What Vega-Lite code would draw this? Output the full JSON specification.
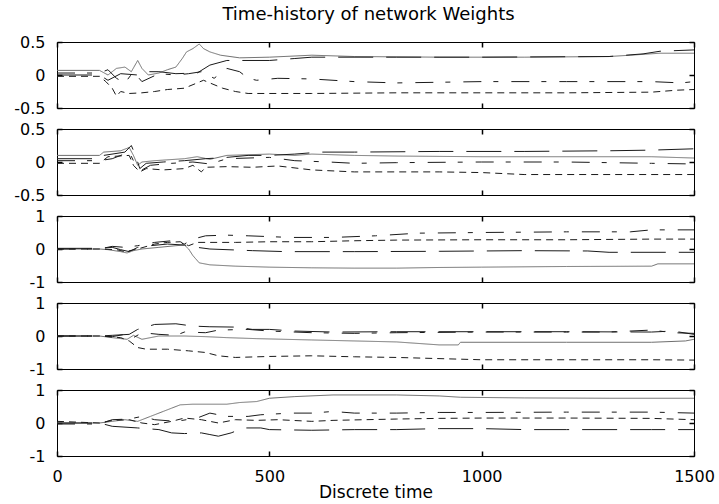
{
  "$schema": "https://vega.github.io/schema/vega-lite/v6.json",
  "background": "white",
  "padding": {"left": 13, "top": 5, "right": 5, "bottom": 5},
  "bounds": "flush",
  "spacing": 21,
  "title": {"text": "Time-history of network Weights", "font": "DejaVu Sans", "fontSize": 18, "fontWeight": "normal", "color": "black", "anchor": "middle", "frame": "group", "offset": 10, "dx": -7},
  "datasets": {
    "w": [
      {"p":1,"s":"solid","t":0,"v":0.07},{"p":1,"s":"solid","t":100,"v":0.07},{"p":1,"s":"solid","t":120,"v":0.0},{"p":1,"s":"solid","t":140,"v":0.1},{"p":1,"s":"solid","t":160,"v":0.12},{"p":1,"s":"solid","t":175,"v":0.05},{"p":1,"s":"solid","t":190,"v":0.22},{"p":1,"s":"solid","t":200,"v":0.1},{"p":1,"s":"solid","t":215,"v":0.0},{"p":1,"s":"solid","t":240,"v":0.03},{"p":1,"s":"solid","t":260,"v":0.08},{"p":1,"s":"solid","t":280,"v":0.12},{"p":1,"s":"solid","t":295,"v":0.25},{"p":1,"s":"solid","t":305,"v":0.35},{"p":1,"s":"solid","t":320,"v":0.4},{"p":1,"s":"solid","t":335,"v":0.47},{"p":1,"s":"solid","t":345,"v":0.4},{"p":1,"s":"solid","t":360,"v":0.35},{"p":1,"s":"solid","t":385,"v":0.3},{"p":1,"s":"solid","t":430,"v":0.26},{"p":1,"s":"solid","t":500,"v":0.27},{"p":1,"s":"solid","t":600,"v":0.3},{"p":1,"s":"solid","t":700,"v":0.28},{"p":1,"s":"solid","t":900,"v":0.27},{"p":1,"s":"solid","t":1100,"v":0.27},{"p":1,"s":"solid","t":1300,"v":0.28},{"p":1,"s":"solid","t":1350,"v":0.3},{"p":1,"s":"solid","t":1420,"v":0.33},{"p":1,"s":"solid","t":1500,"v":0.33},
      {"p":1,"s":"dashed","t":0,"v":0.0},{"p":1,"s":"dashed","t":100,"v":0.0},{"p":1,"s":"dashed","t":120,"v":-0.08},{"p":1,"s":"dashed","t":150,"v":0.02},{"p":1,"s":"dashed","t":190,"v":0.0},{"p":1,"s":"dashed","t":215,"v":0.05},{"p":1,"s":"dashed","t":240,"v":0.05},{"p":1,"s":"dashed","t":280,"v":0.02},{"p":1,"s":"dashed","t":330,"v":0.03},{"p":1,"s":"dashed","t":360,"v":0.15},{"p":1,"s":"dashed","t":400,"v":0.22},{"p":1,"s":"dashed","t":500,"v":0.22},{"p":1,"s":"dashed","t":560,"v":0.25},{"p":1,"s":"dashed","t":600,"v":0.27},{"p":1,"s":"dashed","t":800,"v":0.27},{"p":1,"s":"dashed","t":1000,"v":0.27},{"p":1,"s":"dashed","t":1300,"v":0.28},{"p":1,"s":"dashed","t":1380,"v":0.32},{"p":1,"s":"dashed","t":1420,"v":0.36},{"p":1,"s":"dashed","t":1500,"v":0.38},
      {"p":1,"s":"dotted","t":0,"v":-0.02},{"p":1,"s":"dotted","t":100,"v":-0.02},{"p":1,"s":"dotted","t":115,"v":-0.1},{"p":1,"s":"dotted","t":130,"v":-0.2},{"p":1,"s":"dotted","t":140,"v":-0.32},{"p":1,"s":"dotted","t":150,"v":-0.25},{"p":1,"s":"dotted","t":170,"v":-0.28},{"p":1,"s":"dotted","t":200,"v":-0.27},{"p":1,"s":"dotted","t":230,"v":-0.25},{"p":1,"s":"dotted","t":260,"v":-0.22},{"p":1,"s":"dotted","t":300,"v":-0.2},{"p":1,"s":"dotted","t":330,"v":-0.12},{"p":1,"s":"dotted","t":345,"v":-0.08},{"p":1,"s":"dotted","t":360,"v":-0.12},{"p":1,"s":"dotted","t":390,"v":-0.2},{"p":1,"s":"dotted","t":420,"v":-0.25},{"p":1,"s":"dotted","t":450,"v":-0.28},{"p":1,"s":"dotted","t":600,"v":-0.28},{"p":1,"s":"dotted","t":800,"v":-0.27},{"p":1,"s":"dotted","t":1000,"v":-0.27},{"p":1,"s":"dotted","t":1200,"v":-0.27},{"p":1,"s":"dotted","t":1400,"v":-0.26},{"p":1,"s":"dotted","t":1460,"v":-0.23},{"p":1,"s":"dotted","t":1500,"v":-0.22},
      {"p":1,"s":"dashdot","t":0,"v":0.03},{"p":1,"s":"dashdot","t":100,"v":0.03},{"p":1,"s":"dashdot","t":120,"v":0.08},{"p":1,"s":"dashdot","t":140,"v":-0.05},{"p":1,"s":"dashdot","t":160,"v":-0.12},{"p":1,"s":"dashdot","t":180,"v":0.05},{"p":1,"s":"dashdot","t":200,"v":-0.1},{"p":1,"s":"dashdot","t":240,"v":0.02},{"p":1,"s":"dashdot","t":280,"v":0.0},{"p":1,"s":"dashdot","t":310,"v":0.02},{"p":1,"s":"dashdot","t":340,"v":0.05},{"p":1,"s":"dashdot","t":370,"v":-0.05},{"p":1,"s":"dashdot","t":400,"v":0.1},{"p":1,"s":"dashdot","t":430,"v":0.05},{"p":1,"s":"dashdot","t":450,"v":-0.05},{"p":1,"s":"dashdot","t":470,"v":-0.08},{"p":1,"s":"dashdot","t":520,"v":-0.05},{"p":1,"s":"dashdot","t":600,"v":-0.06},{"p":1,"s":"dashdot","t":700,"v":-0.1},{"p":1,"s":"dashdot","t":800,"v":-0.12},{"p":1,"s":"dashdot","t":1000,"v":-0.1},{"p":1,"s":"dashdot","t":1200,"v":-0.1},{"p":1,"s":"dashdot","t":1400,"v":-0.1},{"p":1,"s":"dashdot","t":1470,"v":-0.12},{"p":1,"s":"dashdot","t":1500,"v":-0.1},

      {"p":2,"s":"solid","t":0,"v":0.1},{"p":2,"s":"solid","t":100,"v":0.1},{"p":2,"s":"solid","t":110,"v":0.15},{"p":2,"s":"solid","t":150,"v":0.17},{"p":2,"s":"solid","t":170,"v":0.22},{"p":2,"s":"solid","t":180,"v":0.1},{"p":2,"s":"solid","t":190,"v":-0.05},{"p":2,"s":"solid","t":200,"v":0.0},{"p":2,"s":"solid","t":230,"v":0.02},{"p":2,"s":"solid","t":300,"v":0.05},{"p":2,"s":"solid","t":330,"v":0.08},{"p":2,"s":"solid","t":360,"v":0.04},{"p":2,"s":"solid","t":400,"v":0.1},{"p":2,"s":"solid","t":500,"v":0.12},{"p":2,"s":"solid","t":560,"v":0.1},{"p":2,"s":"solid","t":600,"v":0.12},{"p":2,"s":"solid","t":700,"v":0.1},{"p":2,"s":"solid","t":800,"v":0.09},{"p":2,"s":"solid","t":1000,"v":0.08},{"p":2,"s":"solid","t":1200,"v":0.08},{"p":2,"s":"solid","t":1400,"v":0.08},{"p":2,"s":"solid","t":1500,"v":0.06},
      {"p":2,"s":"dashed","t":0,"v":0.05},{"p":2,"s":"dashed","t":100,"v":0.05},{"p":2,"s":"dashed","t":110,"v":0.1},{"p":2,"s":"dashed","t":160,"v":0.15},{"p":2,"s":"dashed","t":175,"v":0.25},{"p":2,"s":"dashed","t":185,"v":0.1},{"p":2,"s":"dashed","t":195,"v":-0.1},{"p":2,"s":"dashed","t":210,"v":-0.02},{"p":2,"s":"dashed","t":250,"v":0.0},{"p":2,"s":"dashed","t":300,"v":0.02},{"p":2,"s":"dashed","t":350,"v":0.05},{"p":2,"s":"dashed","t":400,"v":0.07},{"p":2,"s":"dashed","t":450,"v":0.1},{"p":2,"s":"dashed","t":500,"v":0.1},{"p":2,"s":"dashed","t":560,"v":0.12},{"p":2,"s":"dashed","t":620,"v":0.15},{"p":2,"s":"dashed","t":700,"v":0.15},{"p":2,"s":"dashed","t":900,"v":0.16},{"p":2,"s":"dashed","t":1100,"v":0.16},{"p":2,"s":"dashed","t":1300,"v":0.17},{"p":2,"s":"dashed","t":1400,"v":0.18},{"p":2,"s":"dashed","t":1500,"v":0.2},
      {"p":2,"s":"dotted","t":0,"v":-0.02},{"p":2,"s":"dotted","t":100,"v":-0.02},{"p":2,"s":"dotted","t":120,"v":0.08},{"p":2,"s":"dotted","t":170,"v":0.1},{"p":2,"s":"dotted","t":180,"v":-0.05},{"p":2,"s":"dotted","t":195,"v":-0.15},{"p":2,"s":"dotted","t":210,"v":-0.1},{"p":2,"s":"dotted","t":250,"v":-0.12},{"p":2,"s":"dotted","t":300,"v":-0.1},{"p":2,"s":"dotted","t":320,"v":-0.05},{"p":2,"s":"dotted","t":340,"v":-0.15},{"p":2,"s":"dotted","t":350,"v":-0.08},{"p":2,"s":"dotted","t":400,"v":-0.07},{"p":2,"s":"dotted","t":460,"v":-0.08},{"p":2,"s":"dotted","t":520,"v":-0.06},{"p":2,"s":"dotted","t":600,"v":-0.12},{"p":2,"s":"dotted","t":700,"v":-0.15},{"p":2,"s":"dotted","t":800,"v":-0.15},{"p":2,"s":"dotted","t":900,"v":-0.15},{"p":2,"s":"dotted","t":1000,"v":-0.16},{"p":2,"s":"dotted","t":1100,"v":-0.19},{"p":2,"s":"dotted","t":1500,"v":-0.19},
      {"p":2,"s":"dashdot","t":0,"v":0.02},{"p":2,"s":"dashdot","t":100,"v":0.02},{"p":2,"s":"dashdot","t":130,"v":0.05},{"p":2,"s":"dashdot","t":170,"v":0.15},{"p":2,"s":"dashdot","t":180,"v":0.02},{"p":2,"s":"dashdot","t":200,"v":-0.12},{"p":2,"s":"dashdot","t":220,"v":-0.05},{"p":2,"s":"dashdot","t":270,"v":-0.02},{"p":2,"s":"dashdot","t":320,"v":0.0},{"p":2,"s":"dashdot","t":360,"v":-0.03},{"p":2,"s":"dashdot","t":400,"v":0.05},{"p":2,"s":"dashdot","t":500,"v":0.07},{"p":2,"s":"dashdot","t":560,"v":0.02},{"p":2,"s":"dashdot","t":640,"v":0.0},{"p":2,"s":"dashdot","t":700,"v":-0.02},{"p":2,"s":"dashdot","t":800,"v":-0.01},{"p":2,"s":"dashdot","t":1000,"v":0.0},{"p":2,"s":"dashdot","t":1200,"v":0.0},{"p":2,"s":"dashdot","t":1400,"v":-0.02},{"p":2,"s":"dashdot","t":1500,"v":-0.03},

      {"p":3,"s":"solid","t":0,"v":0.0},{"p":3,"s":"solid","t":100,"v":0.0},{"p":3,"s":"solid","t":120,"v":-0.02},{"p":3,"s":"solid","t":150,"v":-0.08},{"p":3,"s":"solid","t":165,"v":-0.12},{"p":3,"s":"solid","t":180,"v":-0.05},{"p":3,"s":"solid","t":200,"v":0.0},{"p":3,"s":"solid","t":240,"v":0.05},{"p":3,"s":"solid","t":280,"v":0.1},{"p":3,"s":"solid","t":300,"v":0.12},{"p":3,"s":"solid","t":310,"v":0.0},{"p":3,"s":"solid","t":320,"v":-0.2},{"p":3,"s":"solid","t":335,"v":-0.42},{"p":3,"s":"solid","t":360,"v":-0.48},{"p":3,"s":"solid","t":420,"v":-0.52},{"p":3,"s":"solid","t":500,"v":-0.55},{"p":3,"s":"solid","t":600,"v":-0.57},{"p":3,"s":"solid","t":700,"v":-0.58},{"p":3,"s":"solid","t":800,"v":-0.58},{"p":3,"s":"solid","t":900,"v":-0.56},{"p":3,"s":"solid","t":1000,"v":-0.55},{"p":3,"s":"solid","t":1200,"v":-0.53},{"p":3,"s":"solid","t":1400,"v":-0.52},{"p":3,"s":"solid","t":1415,"v":-0.45},{"p":3,"s":"solid","t":1500,"v":-0.45},
      {"p":3,"s":"dashed","t":0,"v":0.02},{"p":3,"s":"dashed","t":100,"v":0.02},{"p":3,"s":"dashed","t":130,"v":0.05},{"p":3,"s":"dashed","t":150,"v":-0.02},{"p":3,"s":"dashed","t":170,"v":-0.08},{"p":3,"s":"dashed","t":190,"v":0.05},{"p":3,"s":"dashed","t":220,"v":0.1},{"p":3,"s":"dashed","t":260,"v":0.15},{"p":3,"s":"dashed","t":300,"v":0.12},{"p":3,"s":"dashed","t":330,"v":0.05},{"p":3,"s":"dashed","t":360,"v":0.0},{"p":3,"s":"dashed","t":420,"v":-0.03},{"p":3,"s":"dashed","t":460,"v":-0.05},{"p":3,"s":"dashed","t":540,"v":-0.08},{"p":3,"s":"dashed","t":700,"v":-0.08},{"p":3,"s":"dashed","t":900,"v":-0.07},{"p":3,"s":"dashed","t":1100,"v":-0.05},{"p":3,"s":"dashed","t":1250,"v":-0.06},{"p":3,"s":"dashed","t":1300,"v":-0.1},{"p":3,"s":"dashed","t":1500,"v":-0.1},
      {"p":3,"s":"dotted","t":0,"v":0.0},{"p":3,"s":"dotted","t":100,"v":0.0},{"p":3,"s":"dotted","t":140,"v":-0.02},{"p":3,"s":"dotted","t":160,"v":-0.08},{"p":3,"s":"dotted","t":190,"v":0.0},{"p":3,"s":"dotted","t":230,"v":0.15},{"p":3,"s":"dotted","t":260,"v":0.2},{"p":3,"s":"dotted","t":290,"v":0.22},{"p":3,"s":"dotted","t":310,"v":0.1},{"p":3,"s":"dotted","t":330,"v":0.2},{"p":3,"s":"dotted","t":360,"v":0.2},{"p":3,"s":"dotted","t":420,"v":0.2},{"p":3,"s":"dotted","t":500,"v":0.22},{"p":3,"s":"dotted","t":600,"v":0.22},{"p":3,"s":"dotted","t":700,"v":0.25},{"p":3,"s":"dotted","t":800,"v":0.27},{"p":3,"s":"dotted","t":1000,"v":0.28},{"p":3,"s":"dotted","t":1200,"v":0.28},{"p":3,"s":"dotted","t":1400,"v":0.3},{"p":3,"s":"dotted","t":1500,"v":0.3},
      {"p":3,"s":"dashdot","t":0,"v":0.0},{"p":3,"s":"dashdot","t":100,"v":0.0},{"p":3,"s":"dashdot","t":130,"v":0.08},{"p":3,"s":"dashdot","t":160,"v":0.05},{"p":3,"s":"dashdot","t":190,"v":0.1},{"p":3,"s":"dashdot","t":230,"v":0.2},{"p":3,"s":"dashdot","t":270,"v":0.25},{"p":3,"s":"dashdot","t":300,"v":0.15},{"p":3,"s":"dashdot","t":320,"v":0.3},{"p":3,"s":"dashdot","t":350,"v":0.4},{"p":3,"s":"dashdot","t":400,"v":0.42},{"p":3,"s":"dashdot","t":450,"v":0.4},{"p":3,"s":"dashdot","t":550,"v":0.35},{"p":3,"s":"dashdot","t":650,"v":0.35},{"p":3,"s":"dashdot","t":750,"v":0.4},{"p":3,"s":"dashdot","t":850,"v":0.48},{"p":3,"s":"dashdot","t":1000,"v":0.5},{"p":3,"s":"dashdot","t":1200,"v":0.52},{"p":3,"s":"dashdot","t":1350,"v":0.52},{"p":3,"s":"dashdot","t":1400,"v":0.58},{"p":3,"s":"dashdot","t":1500,"v":0.58},

      {"p":4,"s":"solid","t":0,"v":0.0},{"p":4,"s":"solid","t":100,"v":0.0},{"p":4,"s":"solid","t":130,"v":-0.05},{"p":4,"s":"solid","t":165,"v":-0.1},{"p":4,"s":"solid","t":180,"v":0.02},{"p":4,"s":"solid","t":200,"v":-0.1},{"p":4,"s":"solid","t":240,"v":0.0},{"p":4,"s":"solid","t":300,"v":0.0},{"p":4,"s":"solid","t":350,"v":-0.02},{"p":4,"s":"solid","t":400,"v":-0.05},{"p":4,"s":"solid","t":470,"v":-0.08},{"p":4,"s":"solid","t":600,"v":-0.12},{"p":4,"s":"solid","t":700,"v":-0.15},{"p":4,"s":"solid","t":800,"v":-0.18},{"p":4,"s":"solid","t":900,"v":-0.27},{"p":4,"s":"solid","t":945,"v":-0.27},{"p":4,"s":"solid","t":950,"v":-0.19},{"p":4,"s":"solid","t":1200,"v":-0.19},{"p":4,"s":"solid","t":1400,"v":-0.19},{"p":4,"s":"solid","t":1480,"v":-0.15},{"p":4,"s":"solid","t":1500,"v":-0.1},
      {"p":4,"s":"dashed","t":0,"v":0.0},{"p":4,"s":"dashed","t":100,"v":0.0},{"p":4,"s":"dashed","t":130,"v":0.02},{"p":4,"s":"dashed","t":170,"v":0.05},{"p":4,"s":"dashed","t":190,"v":0.2},{"p":4,"s":"dashed","t":230,"v":0.35},{"p":4,"s":"dashed","t":280,"v":0.37},{"p":4,"s":"dashed","t":320,"v":0.3},{"p":4,"s":"dashed","t":360,"v":0.28},{"p":4,"s":"dashed","t":420,"v":0.27},{"p":4,"s":"dashed","t":460,"v":0.2},{"p":4,"s":"dashed","t":500,"v":0.2},{"p":4,"s":"dashed","t":560,"v":0.15},{"p":4,"s":"dashed","t":650,"v":0.12},{"p":4,"s":"dashed","t":800,"v":0.13},{"p":4,"s":"dashed","t":1000,"v":0.13},{"p":4,"s":"dashed","t":1200,"v":0.13},{"p":4,"s":"dashed","t":1400,"v":0.12},{"p":4,"s":"dashed","t":1450,"v":0.15},{"p":4,"s":"dashed","t":1500,"v":0.05},
      {"p":4,"s":"dotted","t":0,"v":0.0},{"p":4,"s":"dotted","t":100,"v":0.0},{"p":4,"s":"dotted","t":150,"v":-0.05},{"p":4,"s":"dotted","t":170,"v":-0.15},{"p":4,"s":"dotted","t":190,"v":-0.35},{"p":4,"s":"dotted","t":210,"v":-0.4},{"p":4,"s":"dotted","t":260,"v":-0.4},{"p":4,"s":"dotted","t":310,"v":-0.45},{"p":4,"s":"dotted","t":350,"v":-0.5},{"p":4,"s":"dotted","t":380,"v":-0.6},{"p":4,"s":"dotted","t":420,"v":-0.65},{"p":4,"s":"dotted","t":500,"v":-0.62},{"p":4,"s":"dotted","t":600,"v":-0.6},{"p":4,"s":"dotted","t":700,"v":-0.63},{"p":4,"s":"dotted","t":800,"v":-0.65},{"p":4,"s":"dotted","t":1000,"v":-0.72},{"p":4,"s":"dotted","t":1200,"v":-0.72},{"p":4,"s":"dotted","t":1400,"v":-0.72},{"p":4,"s":"dotted","t":1500,"v":-0.73},
      {"p":4,"s":"dashdot","t":0,"v":0.0},{"p":4,"s":"dashdot","t":100,"v":0.0},{"p":4,"s":"dashdot","t":130,"v":-0.02},{"p":4,"s":"dashdot","t":160,"v":0.05},{"p":4,"s":"dashdot","t":180,"v":-0.05},{"p":4,"s":"dashdot","t":200,"v":0.1},{"p":4,"s":"dashdot","t":240,"v":0.05},{"p":4,"s":"dashdot","t":280,"v":0.02},{"p":4,"s":"dashdot","t":300,"v":0.12},{"p":4,"s":"dashdot","t":350,"v":0.1},{"p":4,"s":"dashdot","t":380,"v":0.18},{"p":4,"s":"dashdot","t":450,"v":0.2},{"p":4,"s":"dashdot","t":500,"v":0.15},{"p":4,"s":"dashdot","t":600,"v":0.1},{"p":4,"s":"dashdot","t":700,"v":0.08},{"p":4,"s":"dashdot","t":800,"v":0.1},{"p":4,"s":"dashdot","t":1000,"v":0.12},{"p":4,"s":"dashdot","t":1200,"v":0.12},{"p":4,"s":"dashdot","t":1300,"v":0.12},{"p":4,"s":"dashdot","t":1400,"v":0.18},{"p":4,"s":"dashdot","t":1450,"v":0.1},{"p":4,"s":"dashdot","t":1500,"v":0.08},

      {"p":5,"s":"solid","t":0,"v":0.0},{"p":5,"s":"solid","t":100,"v":0.0},{"p":5,"s":"solid","t":130,"v":0.05},{"p":5,"s":"solid","t":160,"v":0.1},{"p":5,"s":"solid","t":190,"v":0.05},{"p":5,"s":"solid","t":220,"v":0.2},{"p":5,"s":"solid","t":250,"v":0.35},{"p":5,"s":"solid","t":270,"v":0.45},{"p":5,"s":"solid","t":290,"v":0.55},{"p":5,"s":"solid","t":320,"v":0.57},{"p":5,"s":"solid","t":400,"v":0.57},{"p":5,"s":"solid","t":430,"v":0.62},{"p":5,"s":"solid","t":470,"v":0.65},{"p":5,"s":"solid","t":500,"v":0.75},{"p":5,"s":"solid","t":560,"v":0.8},{"p":5,"s":"solid","t":650,"v":0.85},{"p":5,"s":"solid","t":800,"v":0.85},{"p":5,"s":"solid","t":900,"v":0.82},{"p":5,"s":"solid","t":950,"v":0.78},{"p":5,"s":"solid","t":1100,"v":0.76},{"p":5,"s":"solid","t":1300,"v":0.75},{"p":5,"s":"solid","t":1500,"v":0.75},
      {"p":5,"s":"dashed","t":0,"v":0.0},{"p":5,"s":"dashed","t":100,"v":0.0},{"p":5,"s":"dashed","t":130,"v":-0.1},{"p":5,"s":"dashed","t":190,"v":-0.15},{"p":5,"s":"dashed","t":240,"v":-0.2},{"p":5,"s":"dashed","t":270,"v":-0.3},{"p":5,"s":"dashed","t":300,"v":-0.32},{"p":5,"s":"dashed","t":340,"v":-0.3},{"p":5,"s":"dashed","t":360,"v":-0.35},{"p":5,"s":"dashed","t":380,"v":-0.4},{"p":5,"s":"dashed","t":410,"v":-0.3},{"p":5,"s":"dashed","t":440,"v":-0.15},{"p":5,"s":"dashed","t":480,"v":-0.15},{"p":5,"s":"dashed","t":500,"v":-0.2},{"p":5,"s":"dashed","t":600,"v":-0.22},{"p":5,"s":"dashed","t":700,"v":-0.2},{"p":5,"s":"dashed","t":800,"v":-0.2},{"p":5,"s":"dashed","t":900,"v":-0.17},{"p":5,"s":"dashed","t":1000,"v":-0.17},{"p":5,"s":"dashed","t":1100,"v":-0.2},{"p":5,"s":"dashed","t":1200,"v":-0.2},{"p":5,"s":"dashed","t":1400,"v":-0.2},{"p":5,"s":"dashed","t":1500,"v":-0.2},
      {"p":5,"s":"dotted","t":0,"v":0.05},{"p":5,"s":"dotted","t":100,"v":0.0},{"p":5,"s":"dotted","t":130,"v":0.08},{"p":5,"s":"dotted","t":170,"v":0.1},{"p":5,"s":"dotted","t":200,"v":0.0},{"p":5,"s":"dotted","t":230,"v":-0.05},{"p":5,"s":"dotted","t":270,"v":0.05},{"p":5,"s":"dotted","t":300,"v":0.15},{"p":5,"s":"dotted","t":340,"v":0.1},{"p":5,"s":"dotted","t":380,"v":0.0},{"p":5,"s":"dotted","t":420,"v":0.1},{"p":5,"s":"dotted","t":470,"v":0.08},{"p":5,"s":"dotted","t":520,"v":0.1},{"p":5,"s":"dotted","t":600,"v":0.05},{"p":5,"s":"dotted","t":650,"v":0.08},{"p":5,"s":"dotted","t":800,"v":0.12},{"p":5,"s":"dotted","t":900,"v":0.14},{"p":5,"s":"dotted","t":1000,"v":0.15},{"p":5,"s":"dotted","t":1200,"v":0.15},{"p":5,"s":"dotted","t":1400,"v":0.14},{"p":5,"s":"dotted","t":1500,"v":0.1},
      {"p":5,"s":"dashdot","t":0,"v":-0.03},{"p":5,"s":"dashdot","t":100,"v":-0.03},{"p":5,"s":"dashdot","t":130,"v":0.1},{"p":5,"s":"dashdot","t":170,"v":0.12},{"p":5,"s":"dashdot","t":200,"v":0.2},{"p":5,"s":"dashdot","t":230,"v":0.1},{"p":5,"s":"dashdot","t":280,"v":0.05},{"p":5,"s":"dashdot","t":330,"v":0.15},{"p":5,"s":"dashdot","t":360,"v":0.3},{"p":5,"s":"dashdot","t":400,"v":0.2},{"p":5,"s":"dashdot","t":450,"v":0.2},{"p":5,"s":"dashdot","t":480,"v":0.25},{"p":5,"s":"dashdot","t":550,"v":0.3},{"p":5,"s":"dashdot","t":600,"v":0.3},{"p":5,"s":"dashdot","t":650,"v":0.35},{"p":5,"s":"dashdot","t":700,"v":0.3},{"p":5,"s":"dashdot","t":800,"v":0.3},{"p":5,"s":"dashdot","t":900,"v":0.32},{"p":5,"s":"dashdot","t":1000,"v":0.32},{"p":5,"s":"dashdot","t":1200,"v":0.33},{"p":5,"s":"dashdot","t":1400,"v":0.33},{"p":5,"s":"dashdot","t":1500,"v":0.3}
    ]
  },
  "data": {"name": "w"},
  "vconcat": [
    {
      "width": 637, "height": 66,
      "transform": [{"filter": "datum.p == 1"}],
      "layer": [
        {"mark": {"type": "line", "strokeWidth": 1},
         "encoding": {
           "x": {"field": "t", "type": "quantitative", "scale": {"domain": [0, 1500], "nice": false}, "axis": {"orient": "bottom", "values": [0, 500, 1000, 1500], "labels": false, "title": null}},
           "y": {"field": "v", "type": "quantitative", "scale": {"domain": [-0.5, 0.5], "nice": false}, "axis": {"orient": "left", "values": [-0.5, 0, 0.5], "title": null, "labelExpr": "'' + datum.value"}},
           "strokeDash": {"field": "s", "type": "nominal", "scale": {"domain": ["solid", "dashed", "dotted", "dashdot"], "range": [[1, 0], [35, 13], [7, 5], [18, 12, 5, 13]]}, "legend": null},
           "color": {"field": "s", "type": "nominal", "scale": {"domain": ["solid", "dashed", "dotted", "dashdot"], "range": ["#6e6e6e", "#1a1a1a", "#1a1a1a", "#1a1a1a"]}, "legend": null}
         }},
        {"mark": {"type": "line", "strokeOpacity": 0},
         "encoding": {
           "x": {"field": "t", "type": "quantitative", "axis": {"orient": "top", "values": [0, 500, 1000, 1500], "labels": false, "title": null}},
           "y": {"field": "v", "type": "quantitative", "axis": {"orient": "right", "values": [-0.5, 0, 0.5], "labels": false, "title": null}},
           "detail": {"field": "s"}
         }}
      ],
      "resolve": {"axis": {"x": "independent", "y": "independent"}}
    },
    {
      "width": 637, "height": 66,
      "transform": [{"filter": "datum.p == 2"}],
      "layer": [
        {"mark": {"type": "line", "strokeWidth": 1},
         "encoding": {
           "x": {"field": "t", "type": "quantitative", "scale": {"domain": [0, 1500], "nice": false}, "axis": {"orient": "bottom", "values": [0, 500, 1000, 1500], "labels": false, "title": null}},
           "y": {"field": "v", "type": "quantitative", "scale": {"domain": [-0.5, 0.5], "nice": false}, "axis": {"orient": "left", "values": [-0.5, 0, 0.5], "title": null, "labelExpr": "'' + datum.value"}},
           "strokeDash": {"field": "s", "type": "nominal", "scale": {"domain": ["solid", "dashed", "dotted", "dashdot"], "range": [[1, 0], [35, 13], [7, 5], [18, 12, 5, 13]]}, "legend": null},
           "color": {"field": "s", "type": "nominal", "scale": {"domain": ["solid", "dashed", "dotted", "dashdot"], "range": ["#6e6e6e", "#1a1a1a", "#1a1a1a", "#1a1a1a"]}, "legend": null}
         }},
        {"mark": {"type": "line", "strokeOpacity": 0},
         "encoding": {
           "x": {"field": "t", "type": "quantitative", "axis": {"orient": "top", "values": [0, 500, 1000, 1500], "labels": false, "title": null}},
           "y": {"field": "v", "type": "quantitative", "axis": {"orient": "right", "values": [-0.5, 0, 0.5], "labels": false, "title": null}},
           "detail": {"field": "s"}
         }}
      ],
      "resolve": {"axis": {"x": "independent", "y": "independent"}}
    },
    {
      "width": 637, "height": 66,
      "transform": [{"filter": "datum.p == 3"}],
      "layer": [
        {"mark": {"type": "line", "strokeWidth": 1},
         "encoding": {
           "x": {"field": "t", "type": "quantitative", "scale": {"domain": [0, 1500], "nice": false}, "axis": {"orient": "bottom", "values": [0, 500, 1000, 1500], "labels": false, "title": null}},
           "y": {"field": "v", "type": "quantitative", "scale": {"domain": [-1, 1], "nice": false}, "axis": {"orient": "left", "values": [-1, 0, 1], "title": null, "labelExpr": "'' + datum.value"}},
           "strokeDash": {"field": "s", "type": "nominal", "scale": {"domain": ["solid", "dashed", "dotted", "dashdot"], "range": [[1, 0], [35, 13], [7, 5], [18, 12, 5, 13]]}, "legend": null},
           "color": {"field": "s", "type": "nominal", "scale": {"domain": ["solid", "dashed", "dotted", "dashdot"], "range": ["#6e6e6e", "#1a1a1a", "#1a1a1a", "#1a1a1a"]}, "legend": null}
         }},
        {"mark": {"type": "line", "strokeOpacity": 0},
         "encoding": {
           "x": {"field": "t", "type": "quantitative", "axis": {"orient": "top", "values": [0, 500, 1000, 1500], "labels": false, "title": null}},
           "y": {"field": "v", "type": "quantitative", "axis": {"orient": "right", "values": [-1, 0, 1], "labels": false, "title": null}},
           "detail": {"field": "s"}
         }}
      ],
      "resolve": {"axis": {"x": "independent", "y": "independent"}}
    },
    {
      "width": 637, "height": 66,
      "transform": [{"filter": "datum.p == 4"}],
      "layer": [
        {"mark": {"type": "line", "strokeWidth": 1},
         "encoding": {
           "x": {"field": "t", "type": "quantitative", "scale": {"domain": [0, 1500], "nice": false}, "axis": {"orient": "bottom", "values": [0, 500, 1000, 1500], "labels": false, "title": null}},
           "y": {"field": "v", "type": "quantitative", "scale": {"domain": [-1, 1], "nice": false}, "axis": {"orient": "left", "values": [-1, 0, 1], "title": null, "labelExpr": "'' + datum.value"}},
           "strokeDash": {"field": "s", "type": "nominal", "scale": {"domain": ["solid", "dashed", "dotted", "dashdot"], "range": [[1, 0], [35, 13], [7, 5], [18, 12, 5, 13]]}, "legend": null},
           "color": {"field": "s", "type": "nominal", "scale": {"domain": ["solid", "dashed", "dotted", "dashdot"], "range": ["#6e6e6e", "#1a1a1a", "#1a1a1a", "#1a1a1a"]}, "legend": null}
         }},
        {"mark": {"type": "line", "strokeOpacity": 0},
         "encoding": {
           "x": {"field": "t", "type": "quantitative", "axis": {"orient": "top", "values": [0, 500, 1000, 1500], "labels": false, "title": null}},
           "y": {"field": "v", "type": "quantitative", "axis": {"orient": "right", "values": [-1, 0, 1], "labels": false, "title": null}},
           "detail": {"field": "s"}
         }}
      ],
      "resolve": {"axis": {"x": "independent", "y": "independent"}}
    },
    {
      "width": 637, "height": 66,
      "transform": [{"filter": "datum.p == 5"}],
      "layer": [
        {"mark": {"type": "line", "strokeWidth": 1},
         "encoding": {
           "x": {"field": "t", "type": "quantitative", "scale": {"domain": [0, 1500], "nice": false}, "axis": {"orient": "bottom", "values": [0, 500, 1000, 1500], "labels": true, "title": "Discrete time", "labelExpr": "'' + datum.value"}},
           "y": {"field": "v", "type": "quantitative", "scale": {"domain": [-1, 1], "nice": false}, "axis": {"orient": "left", "values": [-1, 0, 1], "title": null, "labelExpr": "'' + datum.value"}},
           "strokeDash": {"field": "s", "type": "nominal", "scale": {"domain": ["solid", "dashed", "dotted", "dashdot"], "range": [[1, 0], [35, 13], [7, 5], [18, 12, 5, 13]]}, "legend": null},
           "color": {"field": "s", "type": "nominal", "scale": {"domain": ["solid", "dashed", "dotted", "dashdot"], "range": ["#6e6e6e", "#1a1a1a", "#1a1a1a", "#1a1a1a"]}, "legend": null}
         }},
        {"mark": {"type": "line", "strokeOpacity": 0},
         "encoding": {
           "x": {"field": "t", "type": "quantitative", "axis": {"orient": "top", "values": [0, 500, 1000, 1500], "labels": false, "title": null}},
           "y": {"field": "v", "type": "quantitative", "axis": {"orient": "right", "values": [-1, 0, 1], "labels": false, "title": null}},
           "detail": {"field": "s"}
         }}
      ],
      "resolve": {"axis": {"x": "independent", "y": "independent"}}
    }
  ],
  "config": {
    "view": {"stroke": "black", "strokeWidth": 1},
    "axis": {
      "domain": false, "grid": false, "ticks": true, "tickColor": "black", "tickOpacity": 1, "tickSize": 5, "tickWidth": 1.5, "offset": -5, "zindex": 1,
      "labelFont": "DejaVu Sans", "labelFontSize": 16, "labelColor": "black", "labelFlush": false, "labelOverlap": false, "labelPadding": 12,
      "titleFont": "DejaVu Sans", "titleFontSize": 17, "titleFontWeight": "normal", "titleColor": "black", "titlePadding": 0
    }
  }
}
